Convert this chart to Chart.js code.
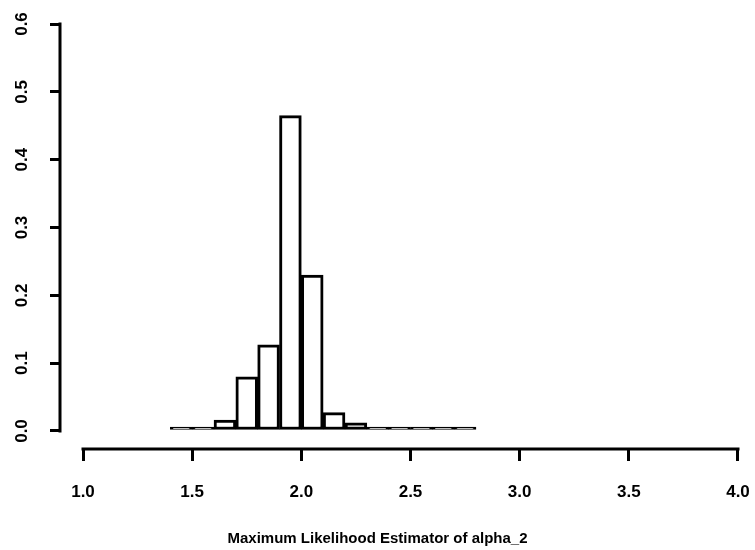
<!DOCTYPE html>
<html>
<head>
<meta charset="utf-8">
<title>Maximum Likelihood Estimator of alpha_2</title>
<script src="https://cdn.jsdelivr.net/npm/chart.js@4.4.1/dist/chart.umd.min.js"></script>
<style>
  html, body { margin: 0; padding: 0; background: #fff; }
  #wrap { width: 755px; height: 550px; position: relative; }
</style>
</head>
<body>
<div id="wrap"><canvas id="histChart"></canvas></div>
<script>
// histogram bins (mid points, width 0.1) and their densities
const binMids = [1.45, 1.55, 1.65, 1.75, 1.85, 1.95, 2.05, 2.15, 2.25, 2.35, 2.45, 2.55, 2.65, 2.75];
const density = [0.001, 0.003, 0.016, 0.080, 0.127, 0.465, 0.230, 0.027, 0.012, 0.005, 0.002, 0.002, 0.001, 0.0005];

const xTicks = [1.0, 1.5, 2.0, 2.5, 3.0, 3.5, 4.0];
const yTicks = [0.0, 0.1, 0.2, 0.3, 0.4, 0.5, 0.6];
const xTitle = 'Maximum Likelihood Estimator of alpha_2';

const fontFamily = '"Liberation Sans", Arial, Helvetica, sans-serif';

// R style axes: lines only span the first to the last tick
const rAxes = {
    id: 'rAxes',
    afterDraw(chart) {
        const ctx = chart.ctx;
        const x = chart.scales.x;
        const y = chart.scales.y;
        const area = chart.chartArea;
        ctx.save();
        ctx.strokeStyle = '#000';
        ctx.lineWidth = 3;
        ctx.lineCap = 'square';
        ctx.beginPath();
        ctx.moveTo(x.getPixelForValue(xTicks[0]), area.bottom);
        ctx.lineTo(x.getPixelForValue(xTicks[xTicks.length - 1]), area.bottom);
        ctx.moveTo(area.left, y.getPixelForValue(yTicks[0]));
        ctx.lineTo(area.left, y.getPixelForValue(yTicks[yTicks.length - 1]));
        ctx.stroke();
        ctx.restore();
    }
};

const ctx = document.getElementById('histChart').getContext('2d');

new Chart(ctx, {
    type: 'bar',
    data: {
        datasets: [{
            data: binMids.map((m, i) => ({ x: m, y: density[i] })),
            backgroundColor: '#fff',
            borderColor: '#000',
            borderWidth: 3,
            borderSkipped: false,
            barPercentage: 1.0,
            categoryPercentage: 1.0,
            minBarLength: 4
        }]
    },
    options: {
        responsive: true,
        maintainAspectRatio: false,
        animation: false,
        layout: { padding: { left: 0, right: 0, top: 24, bottom: 0 } },
        plugins: {
            legend: { display: false },
            tooltip: { enabled: false },
            title: {
                display: true,
                position: 'bottom',
                text: xTitle,
                color: '#000',
                padding: { top: 0, bottom: 2 },
                font: { family: fontFamily, size: 15, weight: 'bold' }
            }
        },
        scales: {
            x: {
                type: 'linear',
                offset: false,
                min: 1.0 - 23 / 218.3,
                max: 4.0 + 17 / 218.3,
                afterBuildTicks: (scale) => { scale.ticks = xTicks.map(v => ({ value: v })); },
                afterFit: (scale) => {
                    scale.height = 81;
                    scale.paddingLeft = 0;
                    scale.paddingRight = 0;
                },
                border: { display: false },
                grid: {
                    offset: false,
                    drawOnChartArea: false,
                    drawTicks: true,
                    tickLength: 12,
                    color: '#000',
                    lineWidth: 3
                },
                ticks: {
                    color: '#000',
                    padding: 21,
                    maxRotation: 0,
                    autoSkip: false,
                    font: { family: fontFamily, size: 17, weight: 'bold' },
                    callback: (v) => Number(v).toFixed(1)
                }
            },
            y: {
                min: -18 / 678.3,
                max: 0.6,
                afterBuildTicks: (scale) => { scale.ticks = yTicks.map(v => ({ value: v })); },
                afterFit: (scale) => {
                    scale.width = 60;
                    scale.paddingTop = 0;
                    scale.paddingBottom = 0;
                },
                border: { display: false },
                grid: {
                    drawOnChartArea: false,
                    drawTicks: true,
                    tickLength: 10,
                    color: '#000',
                    lineWidth: 3
                },
                ticks: {
                    color: '#000',
                    padding: 16,
                    minRotation: 90,
                    maxRotation: 90,
                    crossAlign: 'center',
                    autoSkip: false,
                    font: { family: fontFamily, size: 17, weight: 'bold' },
                    callback: (v) => Number(v).toFixed(1)
                }
            }
        }
    },
    plugins: [rAxes]
});
</script>
</body>
</html>
